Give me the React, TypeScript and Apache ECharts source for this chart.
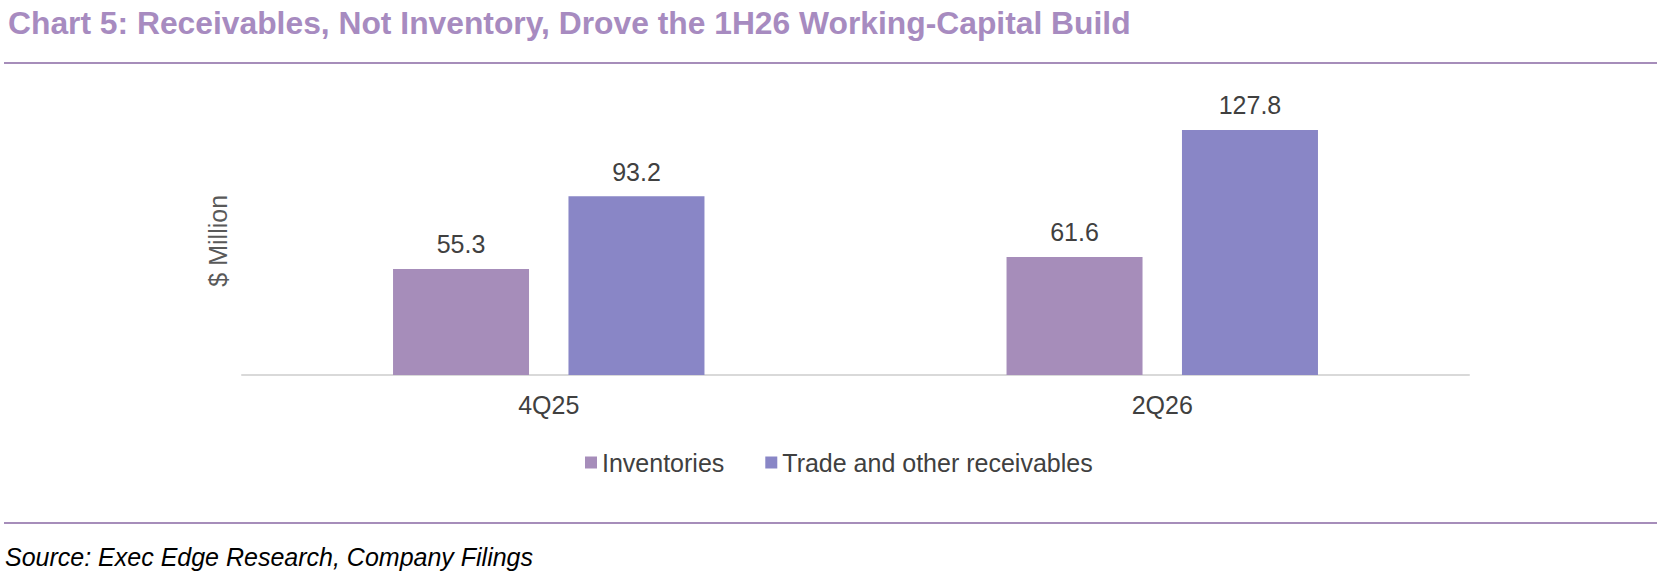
import React, { useEffect, useRef } from "react";
import * as echarts from "echarts";

const categories = ["4Q25", "2Q26"];
const inventories = [55.3, 61.6];
const receivables = [93.2, 127.8];
const seriesNames = ["Inventories", "Trade and other receivables"];

const TITLE = "Chart 5: Receivables, Not Inventory, Drove the 1H26 Working-Capital Build";
const SOURCE = "Source: Exec Edge Research, Company Filings";
const AXIS_NAME = "$ Million";

const C_INV = "#a68dba";
const C_REC = "#8986c6";
const C_RULE = "#a68dba";
const FONT = "'Liberation Sans', Arial, sans-serif";

export default function App() {
  const ref = useRef<HTMLDivElement>(null);
  useEffect(() => {
    if (!ref.current) return;
    const chart = echarts.init(ref.current, null, { renderer: "svg" });
    const labelCfg = {
      show: true,
      position: "top",
      distance: 12,
      fontSize: 25,
      color: "#404040",
      fontFamily: FONT,
      formatter: (p: any) => Number(p.value).toFixed(1),
    };
    chart.setOption({
      animation: false,
      backgroundColor: "#ffffff",
      textStyle: { fontFamily: FONT },
      grid: { left: 242, right: 197, top: 106.6, bottom: 205, containLabel: false },
      legend: {
        data: seriesNames,
        left: 580,
        top: 445,
        itemWidth: 12,
        itemHeight: 12,
        itemGap: 41,
        icon: "rect",
        textStyle: { fontSize: 25, color: "#404040", fontFamily: FONT },
      },
      xAxis: {
        type: "category",
        data: categories,
        axisLine: { show: true, lineStyle: { color: "#d9d9d9", width: 2 } },
        axisTick: { show: false },
        axisLabel: { fontSize: 25, color: "#404040", margin: 17, fontFamily: FONT },
      },
      yAxis: {
        type: "value",
        min: 0,
        max: 140,
        axisLine: { show: false },
        axisTick: { show: false },
        axisLabel: { show: false },
        splitLine: { show: false },
        name: AXIS_NAME,
        nameLocation: "middle",
        nameRotate: 90,
        nameGap: 12,
        nameTextStyle: { fontSize: 25, color: "#595959", fontFamily: FONT },
      },
      series: [
        {
          name: seriesNames[0],
          type: "bar",
          data: inventories,
          barWidth: 136,
          barGap: "29%",
          itemStyle: { color: C_INV },
          label: labelCfg,
        },
        {
          name: seriesNames[1],
          type: "bar",
          data: receivables,
          barWidth: 136,
          barGap: "29%",
          itemStyle: { color: C_REC },
          label: labelCfg,
        },
      ],
      graphic: [
        {
          type: "text",
          x: 8,
          y: 23,
          style: {
            text: TITLE,
            fontSize: 31.8,
            fontWeight: "bold",
            fontFamily: FONT,
            fill: "#a78bc0",
            verticalAlign: "middle",
          },
        },
        {
          type: "line",
          shape: { x1: 4, y1: 63, x2: 1657, y2: 63 },
          style: { stroke: C_RULE, lineWidth: 2 },
        },
        {
          type: "line",
          shape: { x1: 4, y1: 523, x2: 1657, y2: 523 },
          style: { stroke: C_RULE, lineWidth: 2 },
        },
        {
          type: "text",
          x: 5,
          y: 557,
          style: {
            text: SOURCE,
            fontSize: 25,
            fontStyle: "italic",
            fontFamily: FONT,
            fill: "#000000",
            verticalAlign: "middle",
          },
        },
      ],
    });
    return () => chart.dispose();
  }, []);
  return (
    <div
      ref={ref}
      style={{ position: "absolute", left: 0, top: 0, width: 1666, height: 580 }}
    />
  );
}
